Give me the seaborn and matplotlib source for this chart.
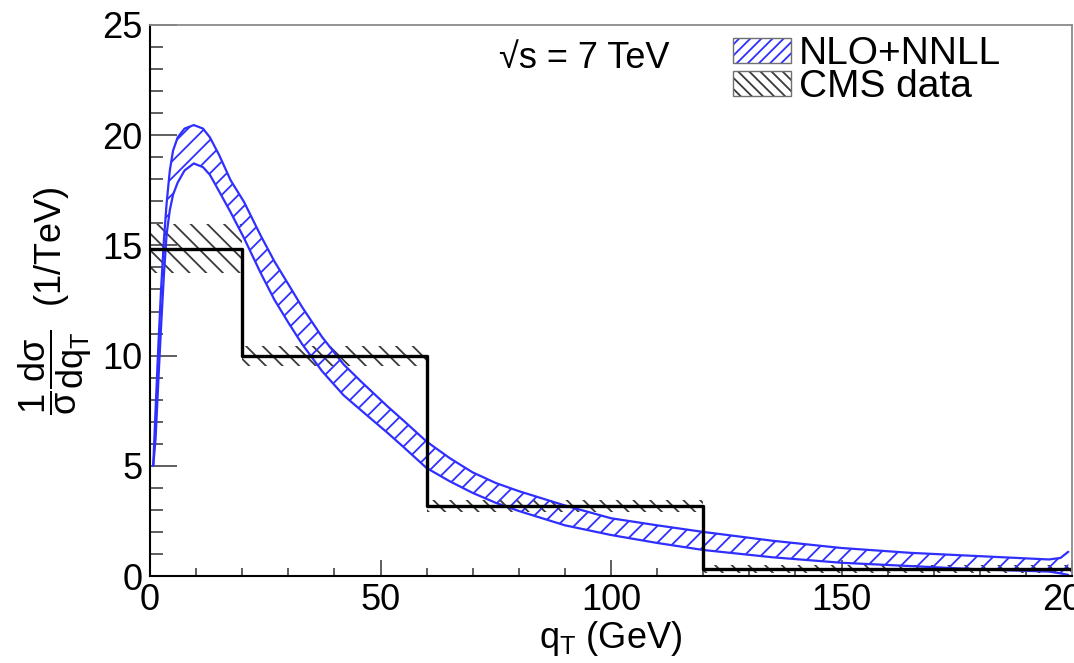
import numpy as np
import pandas as pd
import matplotlib
matplotlib.use("Agg")
import matplotlib.pyplot as plt
import seaborn as sns
from matplotlib.patches import Patch
from matplotlib.ticker import MultipleLocator

# ---------------- data ----------------
# CMS data histogram (bin edges in GeV, normalised values, errors)
bin_edges = [0, 20, 60, 120, 200]
cms_values = [14.85, 9.97, 3.18, 0.30]
cms_errors = [1.10, 0.45, 0.28, 0.18]

# NLO+NNLL theory band (upper / lower edges)
theory_qt = [0.7, 1.2, 1.8, 2.4, 3.0, 3.6, 4.3, 5.0, 6.0, 7.5,
             9.5, 11.5, 13.0, 15.0, 17.5, 20.4, 24, 27, 30, 33,
             37.3, 42, 46, 51.5, 55, 60, 65, 70, 75, 80,
             90, 100, 110, 120, 135, 150, 165, 180, 195, 197.5,
             199.2]
theory_upper = [5.0, 7.5, 10.4, 13.0, 15.2, 16.9, 18.4, 19.3, 19.9, 20.3,
                20.46, 20.3, 19.9, 19.1, 17.95, 16.97, 15.45, 14.27, 13.24, 12.2,
                10.85, 9.6, 8.78, 7.7, 7.05, 6.1, 5.35, 4.7, 4.22, 3.85,
                3.2, 2.62, 2.3, 2.0, 1.6, 1.27, 1.05, 0.9, 0.75, 0.82,
                1.1]
theory_lower = [5.0, 6.2, 8.8, 11.3, 13.6, 15.5, 16.6, 17.3, 17.85, 18.4,
                18.72, 18.55, 18.2, 17.45, 16.5, 15.33, 13.75, 12.53, 11.5, 10.52,
                9.3, 8.2, 7.48, 6.5, 5.85, 4.9, 4.3, 3.77, 3.32, 2.95,
                2.3, 1.86, 1.5, 1.18, 0.85, 0.6, 0.45, 0.3, 0.2, 0.12,
                0.05]

x_ticks = [0, 50, 100, 150, 200]
y_ticks = [0, 5, 10, 15, 20, 25]

# ---------------- style ----------------
sns.set_style("ticks")
plt.rcParams["font.family"] = ["Liberation Sans", "DejaVu Sans"]
plt.rcParams["mathtext.fontset"] = "custom"
plt.rcParams["mathtext.rm"] = "Liberation Sans"
plt.rcParams["mathtext.it"] = "Liberation Sans"
plt.rcParams["mathtext.sf"] = "Liberation Sans"
plt.rcParams["mathtext.bf"] = "Liberation Sans:bold"
plt.rcParams["hatch.linewidth"] = 1.3
for key in ["text.color", "axes.labelcolor", "xtick.labelcolor", "ytick.labelcolor"]:
    plt.rcParams[key] = "black"

BLUE = "#2f2fff"
DARK = "#3a3a3a"

fig = plt.figure(figsize=(10.74, 6.63), dpi=100)
ax = fig.add_axes([150 / 1074, 1 - 576 / 663, 922 / 1074, 551 / 663])

edges = np.array(bin_edges, dtype=float)
centers = (edges[:-1] + edges[1:]) / 2
widths = np.diff(edges)
vals = np.array(cms_values)
errs = np.array(cms_errors)

cms_df = pd.DataFrame({"qt": centers, "value": vals})

# CMS error band (hatched)
ax.bar(centers, 2 * errs, bottom=vals - errs, width=widths,
       fill=False, hatch="\\\\", edgecolor=DARK, linewidth=0)

# theory band
ax.fill_between(theory_qt, theory_lower, theory_upper, facecolor="none",
                edgecolor=BLUE, hatch="//", linewidth=0)
sns.lineplot(x=theory_qt, y=theory_upper, color=BLUE, linewidth=1.6,
             estimator=None, ax=ax)
sns.lineplot(x=theory_qt, y=theory_lower, color=BLUE, linewidth=1.6,
             estimator=None, ax=ax)

# CMS data histogram (step)
sns.histplot(data=cms_df, x="qt", weights="value", bins=list(bin_edges),
             element="step", fill=False, color="black", linewidth=2.4, ax=ax)

# ---------------- axes ----------------
ax.set_xlim(0, 200)
ax.set_ylim(0, 25)
ax.set_xticks(x_ticks)
ax.set_yticks(y_ticks)
ax.xaxis.set_minor_locator(MultipleLocator(10))
ax.yaxis.set_minor_locator(MultipleLocator(1))
ax.tick_params(axis="both", which="both", direction="in", colors="#333333",
               labelcolor="black", width=1.1)
ax.tick_params(axis="x", which="major", length=11.5, labelsize=26, pad=5)
ax.tick_params(axis="x", which="minor", length=5.8)
ax.tick_params(axis="y", which="major", length=19.5, labelsize=26, pad=5.5)
ax.tick_params(axis="y", which="minor", length=9.4)

for s in ["left", "bottom"]:
    ax.spines[s].set_color("black")
    ax.spines[s].set_linewidth(1.5)
for s in ["top", "right"]:
    ax.spines[s].set_color("#8a8a8a")
    ax.spines[s].set_linewidth(1.3)

ax.set_xlabel(r"q$_{T}$ (GeV)", fontsize=26, color="black")
ax.set_ylabel(r"$\dfrac{1}{\sigma}\dfrac{d\sigma}{dq_{T}}$  (1/TeV)",
              fontsize=26, color="black")
ax.xaxis.set_label_coords(0.5, -0.078)
ax.yaxis.set_label_coords(-0.061, 0.5)

ax.text(0.378, 0.922, "\u221as = 7 TeV", transform=ax.transAxes,
        fontsize=26, va="baseline", ha="left", color="black")

# legend
h_nlo = (Patch(facecolor="white", edgecolor=BLUE, hatch="///", linewidth=0),
         Patch(facecolor="none", edgecolor="#707070", linewidth=1.0))
h_cms = (Patch(facecolor="white", edgecolor=DARK, hatch="\\\\\\", linewidth=0),
         Patch(facecolor="none", edgecolor="#707070", linewidth=1.0))
leg = ax.legend([h_nlo, h_cms], ["NLO+NNLL", "CMS data"], loc="upper left",
                bbox_to_anchor=(0.632, 0.98), frameon=False, fontsize=28,
                handlelength=1.5, handleheight=0.6, handletextpad=0.2,
                labelspacing=-0.07, borderaxespad=0, borderpad=0)
for t in leg.get_texts():
    t.set_color("black")

fig.savefig("out.png", dpi=100)
